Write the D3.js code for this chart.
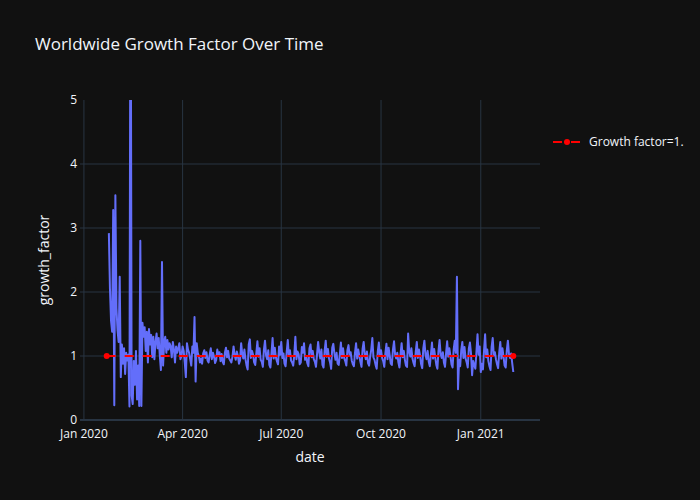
<!DOCTYPE html>
<html>
<head>
<meta charset="utf-8">
<script src="https://cdn.jsdelivr.net/npm/d3@7"></script>
<style>
  body { margin: 0; background: #111111; }
  svg { display: block; font-family: "Open Sans", verdana, arial, sans-serif; }
</style>
</head>
<body>
<svg width="700" height="500"></svg>
<script>
// growth factor = new cases today / new cases yesterday, daily from 2020-01-24
const startDate = "2020-01-24";
const growthFactor = [
  2.92, 2.05, 1.55, 1.38, 3.28, 0.23, 3.51, 1.75, 1.40, 1.22,
  2.24, 0.67, 1.18, 0.88, 1.12, 0.72, 1.05, 0.93, 1.02, 0.21,
  8.20, 0.38, 0.25, 0.92, 0.55, 1.08, 0.32, 0.85, 0.22, 2.80,
  0.22, 1.52, 1.30, 1.45, 1.08, 1.38, 0.90, 1.42, 1.18, 1.33,
  0.98, 1.30, 0.95, 1.22, 1.35, 1.12, 1.28, 1.00, 0.78, 2.47,
  0.85, 1.22, 1.30, 1.05, 1.25, 1.10, 1.20, 1.15, 0.98, 1.22,
  1.10, 0.90, 1.15, 1.05, 1.12, 1.20, 0.95, 1.00, 1.15, 1.08,
  0.90, 0.67, 1.20, 1.10, 1.05, 0.95, 0.85, 1.15, 1.05, 1.61,
  0.60, 1.20, 1.05, 1.00, 0.90,
  // weekly rhythm from mid April
  0.96, 0.88, 1.04, 1.09, 0.97, 1.06, 0.93,
  0.90, 1.02, 1.12, 0.95, 1.05, 0.99, 0.89,
  0.94, 1.10, 1.01, 1.06, 0.92, 1.03, 0.91,
  0.87, 1.05, 1.13, 0.98, 1.08, 0.96, 0.93,
  0.90, 0.99, 1.15, 1.02, 0.94, 1.07, 1.00,
  0.88, 0.93, 1.20, 1.03, 0.96, 1.10, 0.95,
  0.85, 0.79, 1.18, 1.26, 0.97, 1.08, 1.02,
  0.90, 0.86, 1.04, 1.23, 0.99, 1.12, 0.94,
  0.91, 0.83, 1.10, 1.24, 1.01, 0.95, 1.09,
  0.86, 0.82, 1.05, 1.28, 0.96, 1.13, 0.98,
  0.92, 0.87, 1.15, 1.02, 1.22, 0.97, 1.04,
  0.88, 0.84, 1.06, 1.25, 1.00, 1.09, 0.93,
  0.90, 0.85, 1.01, 1.30, 0.95, 1.07, 1.03,
  0.87, 0.90, 1.14, 1.05, 1.20, 0.94, 1.00,
  0.89, 0.84, 1.12, 1.18, 0.98, 1.08, 0.95,
  0.91, 0.83, 1.03, 1.22, 1.06, 0.96, 1.10,
  0.86, 0.82, 1.08, 1.24, 0.99, 1.11, 0.96,
  0.90, 0.80, 1.13, 1.19, 1.04, 0.94, 1.05,
  0.88, 0.86, 1.02, 1.21, 0.97, 1.12, 0.97,
  0.92, 0.85, 1.09, 1.17, 1.01, 1.06, 0.93,
  0.87, 0.84, 1.05, 1.20, 0.96, 1.10, 1.00,
  0.91, 0.83, 1.11, 1.22, 1.03, 0.95, 1.07,
  0.89, 0.85, 0.99, 1.10, 1.28, 0.98, 0.94,
  0.86, 0.80, 1.07, 1.21, 1.00, 1.09, 0.97,
  0.92, 0.83, 1.04, 1.19, 0.95, 1.13, 1.01,
  0.88, 0.86, 1.10, 1.23, 1.02, 0.96, 1.05,
  0.90, 0.82, 1.03, 1.20, 0.98, 1.08, 0.94,
  0.85, 0.83, 1.35, 1.07, 0.99, 1.12, 0.96,
  0.89, 0.84, 1.06, 1.22, 0.97, 1.10, 1.01,
  0.87, 0.81, 1.12, 1.24, 1.02, 0.95, 1.08,
  0.91, 0.84, 1.02, 1.21, 0.96, 1.11, 0.98,
  0.86, 0.80, 1.08, 1.25, 1.03, 0.97, 1.06,
  0.90, 0.83, 1.04, 1.23, 0.99, 1.12, 1.00,
  0.87, 0.82, 1.10, 1.24, 1.05, 2.24, 0.48,
  0.94, 0.84, 1.09, 1.22, 0.97, 1.14, 0.96,
  0.90, 0.82, 1.12, 1.21, 1.04, 0.70, 0.92,
  0.86, 0.80, 1.06, 1.34, 1.02, 1.15, 0.75,
  0.88, 0.79, 1.08, 1.34, 0.98, 1.10, 0.92,
  0.84, 0.78, 1.14, 1.28, 1.01, 1.06, 0.95,
  0.87, 0.81, 1.05, 1.22, 0.96, 1.12, 0.99,
  0.85, 0.82, 1.09, 1.24, 1.03, 0.97, 1.04,
  0.89, 0.75
];

// reference line: growth factor of 1, first and last date
const refDates = ["2020-01-22", "2021-01-31"];
const refValues = [1, 1];

const yTicks = [0, 1, 2, 3, 4, 5];
const xTickDates = ["2020-01-01", "2020-04-01", "2020-07-01", "2020-10-01", "2021-01-01"];
const xTickLabels = ["Jan 2020", "Apr 2020", "Jul 2020", "Oct 2020", "Jan 2021"];

const parse = d3.timeParse("%Y-%m-%d");
const t0 = parse(startDate);
const series = growthFactor.map((v, i) => ({date: d3.timeDay.offset(t0, i), value: v}));
const ref = refDates.map((d, i) => ({date: parse(d), value: refValues[i]}));

const plot = {left: 80, right: 540, top: 100, bottom: 420};
const padX = 26.7;

const x = d3.scaleTime()
  .domain([ref[0].date, ref[1].date])
  .range([plot.left + padX, plot.right - padX]);
const y = d3.scaleLinear().domain([0, 5]).range([plot.bottom, plot.top]);

const svg = d3.select("svg");
svg.append("rect").attr("width", 700).attr("height", 500).attr("fill", "#111111");

// title
svg.append("text")
  .attr("x", 35).attr("y", 50)
  .attr("fill", "#f2f5fa").style("font-size", "17px")
  .text("Worldwide Growth Factor Over Time");

// grid
const grid = svg.append("g");
grid.selectAll("line.xg").data(xTickDates).enter().append("line")
  .attr("x1", d => x(parse(d))).attr("x2", d => x(parse(d)))
  .attr("y1", plot.top).attr("y2", plot.bottom)
  .attr("stroke", "#283442").attr("stroke-width", 1);
grid.selectAll("line.yg").data(yTicks.filter(t => t > 0 && t < 5)).enter().append("line")
  .attr("x1", plot.left).attr("x2", plot.right)
  .attr("y1", d => y(d)).attr("y2", d => y(d))
  .attr("stroke", "#283442").attr("stroke-width", 1);
// zero line
grid.append("line")
  .attr("x1", plot.left).attr("x2", plot.right)
  .attr("y1", y(0)).attr("y2", y(0))
  .attr("stroke", "#283442").attr("stroke-width", 2);

// tick labels
svg.append("g").selectAll("text").data(yTicks).enter().append("text")
  .attr("x", plot.left - 3).attr("y", d => y(d) + 4)
  .attr("text-anchor", "end").attr("fill", "#f2f5fa").style("font-size", "12px")
  .text(d => d);
svg.append("g").selectAll("text").data(xTickDates).enter().append("text")
  .attr("x", d => x(parse(d))).attr("y", plot.bottom + 18)
  .attr("text-anchor", "middle").attr("fill", "#f2f5fa").style("font-size", "12px")
  .text((d, i) => xTickLabels[i]);

// axis titles
svg.append("text")
  .attr("x", (plot.left + plot.right) / 2).attr("y", 462)
  .attr("text-anchor", "middle").attr("fill", "#f2f5fa").style("font-size", "14px")
  .text("date");
svg.append("text")
  .attr("transform", `translate(49,${(plot.top + plot.bottom) / 2}) rotate(-90)`)
  .attr("text-anchor", "middle").attr("fill", "#f2f5fa").style("font-size", "14px")
  .text("growth_factor");

// clip
svg.append("clipPath").attr("id", "clip").append("rect")
  .attr("x", plot.left).attr("y", plot.top)
  .attr("width", plot.right - plot.left).attr("height", plot.bottom - plot.top);

const line = d3.line().x(d => x(d.date)).y(d => y(d.value));
const marks = svg.append("g").attr("clip-path", "url(#clip)");

marks.append("path").datum(series)
  .attr("d", line)
  .attr("fill", "none").attr("stroke", "#636efa").attr("stroke-width", 2)
  .attr("stroke-linejoin", "round");

marks.append("path").datum(ref)
  .attr("d", line)
  .attr("fill", "none").attr("stroke", "#ff0000").attr("stroke-width", 2)
  .attr("stroke-dasharray", "9,9");
marks.selectAll("circle").data(ref).enter().append("circle")
  .attr("cx", d => x(d.date)).attr("cy", d => y(d.value)).attr("r", 3)
  .attr("fill", "#ff0000");

// legend
const lg = svg.append("g").attr("transform", "translate(553,142)");
lg.append("line").attr("x1", 0).attr("x2", 28)
  .attr("stroke", "#ff0000").attr("stroke-width", 2).attr("stroke-dasharray", "9,9")
  .attr("stroke-dashoffset", 0);
lg.append("circle").attr("cx", 14).attr("r", 3).attr("fill", "#ff0000");
lg.append("text").attr("x", 36).attr("y", 4)
  .attr("fill", "#f2f5fa").style("font-size", "12px")
  .text("Growth factor=1.");
</script>
</body>
</html>
